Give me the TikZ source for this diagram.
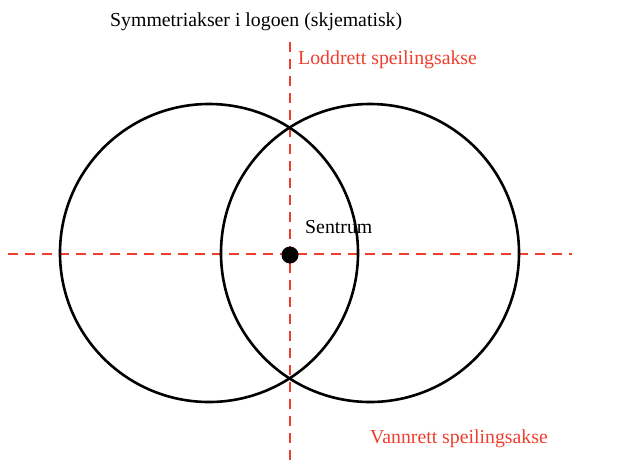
\documentclass[tikz,border=0pt]{standalone}
\usepackage{fontspec}
\setmainfont{Liberation Serif}
\definecolor{axred}{RGB}{238,62,45}
\begin{document}
\begin{tikzpicture}[x=1pt,y=-1pt,
  axis/.style={axred,line width=2pt,dash pattern=on 10pt off 7pt},
  ring/.style={draw=black,line width=2.6pt},
  lbl/.style={font=\fontsize{19.8}{22}\selectfont,anchor=base west,inner sep=0pt},
  redlbl/.style={lbl,text=axred}]
\useasboundingbox (0,0) rectangle (640,475);
\coordinate (vtop) at (290,42);
\coordinate (vbot) at (290,466);
\coordinate (hl) at (8,254);
\coordinate (hr) at (572,254);
\draw[axis] (vtop) -- (vbot);
\draw[axis] (hl) -- (hr);
\node[ring,circle,minimum size=298pt,inner sep=0pt] (lc) at (209,253) {};
\node[ring,circle,minimum size=298pt,inner sep=0pt] (rc) at (370,253) {};
\node[circle,fill=black,minimum size=17pt,inner sep=0pt] (ctr) at (290,255) {};
\node[lbl] (title) at (110,26) {Symmetriakser i logoen (skjematisk)};
\node[redlbl] (vlab) at (298,64) {Loddrett speilingsakse};
\node[lbl] (sent) at (305,233) {Sentrum};
\node[redlbl] (hlab) at (370,443) {Vannrett speilingsakse};
\end{tikzpicture}
\end{document}
